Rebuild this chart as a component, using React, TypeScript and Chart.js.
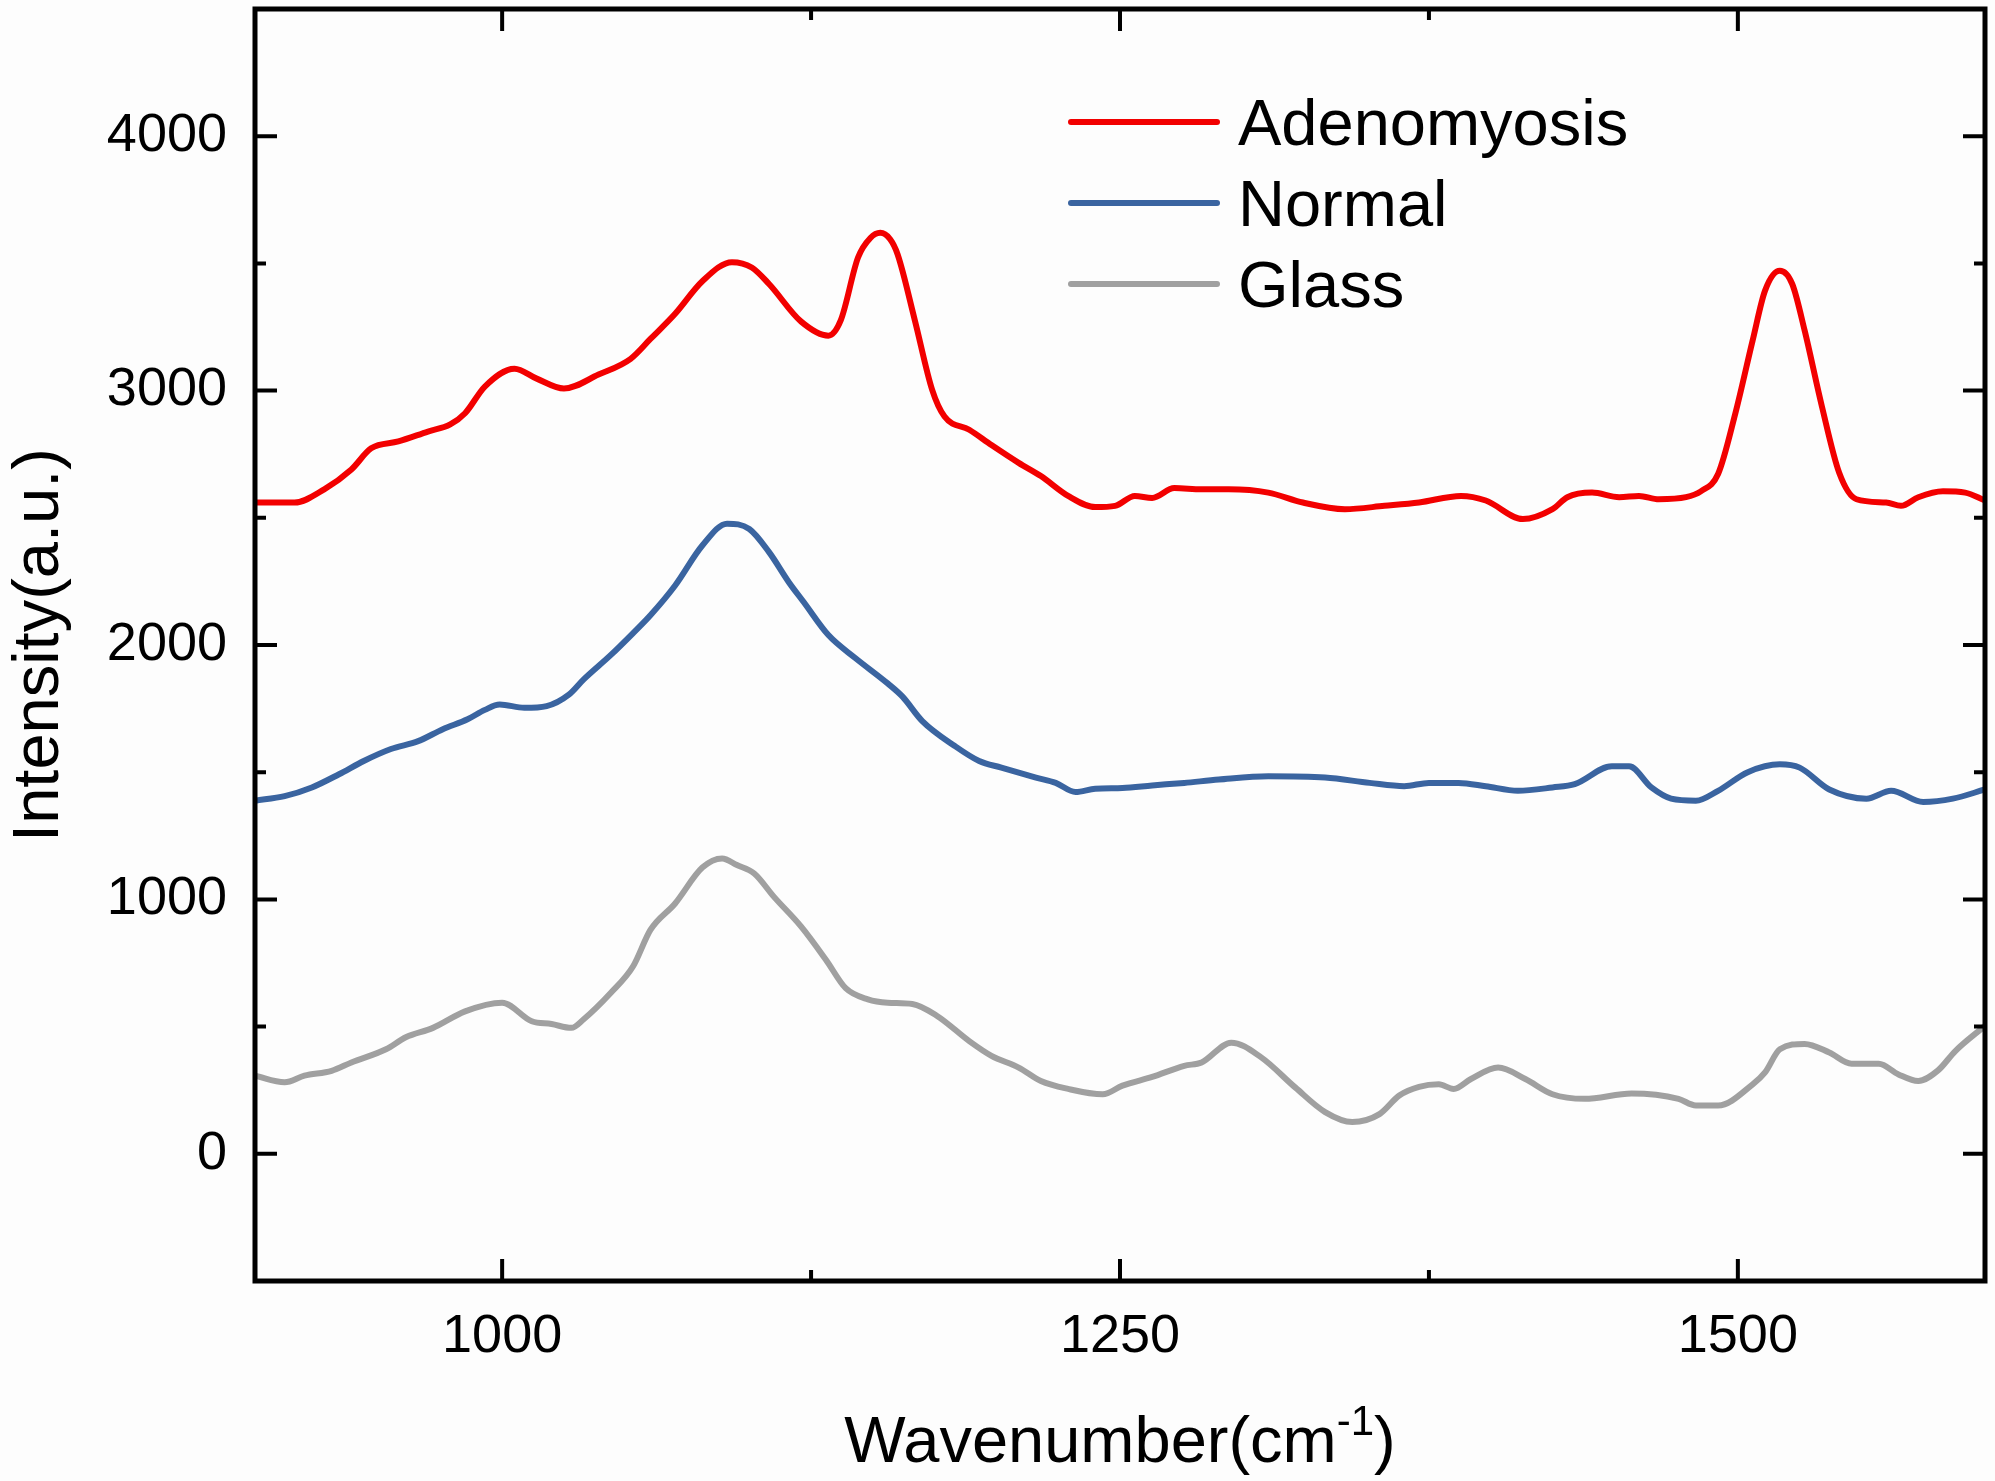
import { useEffect, useRef } from "react"
import { Chart, registerables } from "chart.js"

Chart.register(...registerables)

// Raman spectra (wavenumber, intensity)
const adenoX = [900, 916, 928, 939, 947, 958, 970, 979, 985, 993, 1005, 1014, 1025, 1039, 1052, 1060, 1070, 1081, 1093, 1101, 1108, 1121, 1132, 1137, 1144, 1149, 1153, 1157, 1160, 1167, 1174, 1179, 1189, 1198, 1209, 1218, 1229, 1240, 1248, 1256, 1263, 1272, 1283, 1294, 1310, 1324, 1341, 1357, 1371, 1388, 1398, 1413, 1425, 1431, 1441, 1452, 1460, 1468, 1479, 1485, 1492, 1499, 1506, 1511, 1517, 1522, 1527, 1534, 1541, 1548, 1560, 1566, 1573, 1583, 1592, 1600]
const adenoY = [2560, 2560, 2612, 2690, 2773, 2800, 2839, 2867, 2911, 3016, 3086, 3047, 3008, 3063, 3125, 3203, 3302, 3430, 3505, 3484, 3419, 3271, 3216, 3276, 3523, 3600, 3620, 3595, 3536, 3276, 3003, 2898, 2846, 2786, 2716, 2664, 2586, 2542, 2547, 2586, 2578, 2617, 2612, 2612, 2599, 2560, 2534, 2547, 2560, 2586, 2568, 2495, 2534, 2581, 2599, 2581, 2586, 2573, 2581, 2604, 2672, 2911, 3198, 3393, 3471, 3419, 3237, 2938, 2677, 2573, 2560, 2547, 2581, 2604, 2599, 2568]

const normalX = [900, 912, 923, 934, 944, 955, 966, 976, 986, 993, 999, 1009, 1018, 1027, 1033, 1044, 1053, 1060, 1070, 1081, 1091, 1100, 1108, 1116, 1122, 1132, 1143, 1156, 1162, 1170, 1183, 1193, 1202, 1216, 1224, 1232, 1240, 1251, 1263, 1276, 1290, 1310, 1333, 1351, 1365, 1375, 1387, 1398, 1411, 1425, 1434, 1449, 1456, 1465, 1473, 1483, 1492, 1504, 1517, 1525, 1537, 1552, 1562, 1575, 1587, 1600]
const normalY = [1388, 1406, 1440, 1492, 1544, 1591, 1622, 1669, 1708, 1745, 1766, 1753, 1760, 1805, 1865, 1961, 2047, 2117, 2234, 2391, 2477, 2456, 2365, 2247, 2169, 2039, 1948, 1849, 1797, 1701, 1604, 1544, 1518, 1479, 1458, 1422, 1435, 1438, 1448, 1458, 1471, 1484, 1479, 1458, 1445, 1458, 1458, 1445, 1427, 1440, 1453, 1523, 1523, 1440, 1396, 1388, 1427, 1500, 1531, 1518, 1432, 1396, 1427, 1383, 1396, 1432]

const glassX = [900, 912, 920, 931, 939, 953, 961, 972, 985, 1000, 1012, 1020, 1028, 1033, 1044, 1053, 1060, 1070, 1081, 1089, 1095, 1102, 1110, 1121, 1131, 1139, 1148, 1156, 1166, 1176, 1189, 1198, 1209, 1218, 1229, 1243, 1251, 1263, 1276, 1283, 1295, 1307, 1321, 1333, 1344, 1355, 1363, 1371, 1379, 1385, 1392, 1403, 1414, 1425, 1438, 1457, 1476, 1483, 1492, 1506, 1511, 1517, 1527, 1537, 1546, 1557, 1565, 1573, 1581, 1588, 1600]
const glassY = [307, 281, 307, 326, 359, 411, 458, 495, 560, 594, 521, 510, 495, 529, 633, 737, 880, 984, 1125, 1161, 1135, 1102, 1010, 893, 763, 651, 607, 594, 589, 542, 443, 385, 339, 286, 255, 234, 268, 302, 346, 359, 437, 380, 260, 164, 125, 156, 229, 263, 273, 255, 294, 339, 294, 234, 216, 237, 216, 190, 190, 273, 320, 411, 432, 398, 354, 354, 312, 286, 328, 404, 503]

const seriesNames = ["Adenomyosis", "Normal", "Glass"]
const seriesColors = ["#f20000", "#3a64a0", "#a0a0a0"]

const xMajor = [1000, 1250, 1500]
const xMinor = [1125, 1375]
const yMajor = [0, 1000, 2000, 3000, 4000]
const yMinor = [500, 1500, 2500, 3500]

const FONT = "'Liberation Sans', Arial, sans-serif"

const toPoints = (xs: number[], ys: number[]) => xs.map((x, i) => ({ x, y: ys[i] }))

// frame, inward ticks on all four sides, axis titles and the legend
const decorPlugin = {
  id: "decor",
  afterDraw(chart: any) {
    const { ctx, chartArea } = chart
    const { left, right, top, bottom } = chartArea
    const xs = chart.scales.x
    const ys = chart.scales.y
    ctx.save()
    ctx.strokeStyle = "#000"
    ctx.lineCap = "butt"

    ctx.lineWidth = 4
    const drawX = (vals: number[], len: number) => {
      vals.forEach((v) => {
        const px = xs.getPixelForValue(v)
        ctx.beginPath()
        ctx.moveTo(px, bottom)
        ctx.lineTo(px, bottom - len)
        ctx.moveTo(px, top)
        ctx.lineTo(px, top + len)
        ctx.stroke()
      })
    }
    const drawY = (vals: number[], len: number) => {
      vals.forEach((v) => {
        const py = ys.getPixelForValue(v)
        ctx.beginPath()
        ctx.moveTo(left, py)
        ctx.lineTo(left + len, py)
        ctx.moveTo(right, py)
        ctx.lineTo(right - len, py)
        ctx.stroke()
      })
    }
    drawX(xMajor, 22)
    drawX(xMinor, 11)
    drawY(yMajor, 22)
    drawY(yMinor, 11)

    ctx.lineWidth = 5
    ctx.strokeRect(left, top, right - left, bottom - top)

    ctx.fillStyle = "#000"

    // x title with superscript
    const mainFont = `65px ${FONT}`
    const supFont = `42px ${FONT}`
    ctx.font = mainFont
    const w1 = ctx.measureText("Wavenumber(cm").width
    const w3 = ctx.measureText(")").width
    ctx.font = supFont
    const w2 = ctx.measureText("-1").width
    const total = w1 + w2 + w3
    let tx = (left + right) / 2 - total / 2
    const baseY = 1462
    ctx.textAlign = "left"
    ctx.textBaseline = "alphabetic"
    ctx.font = mainFont
    ctx.fillText("Wavenumber(cm", tx, baseY)
    tx += w1
    ctx.font = supFont
    ctx.fillText("-1", tx, baseY - 27)
    tx += w2
    ctx.font = mainFont
    ctx.fillText(")", tx, baseY)

    // y title
    ctx.save()
    ctx.translate(58, (top + bottom) / 2)
    ctx.rotate(-Math.PI / 2)
    ctx.textAlign = "center"
    ctx.font = mainFont
    ctx.fillText("Intensity(a.u.)", 0, 0)
    ctx.restore()

    // legend
    const rows = [122, 203, 284]
    chart.data.datasets.forEach((ds: any, i: number) => {
      const y = rows[i]
      ctx.strokeStyle = ds.borderColor
      ctx.lineWidth = 6
      ctx.lineCap = "round"
      ctx.beginPath()
      ctx.moveTo(1071, y)
      ctx.lineTo(1217, y)
      ctx.stroke()
      ctx.font = mainFont
      ctx.textAlign = "left"
      ctx.fillText(ds.label, 1238, y + 23)
    })
    ctx.restore()
  },
}

export default function App() {
  const chartRef = useRef<HTMLCanvasElement>(null)
  const chartInstance = useRef<Chart | null>(null)

  useEffect(() => {
    if (!chartRef.current) return
    if (chartInstance.current) chartInstance.current.destroy()
    const ctx = chartRef.current.getContext("2d")
    if (!ctx) return

    const series = [toPoints(adenoX, adenoY), toPoints(normalX, normalY), toPoints(glassX, glassY)]

    chartInstance.current = new Chart(ctx, {
      type: "line",
      data: {
        datasets: series.map((pts, i) => ({
          label: seriesNames[i],
          data: pts,
          borderColor: seriesColors[i],
          backgroundColor: seriesColors[i],
          borderWidth: 6,
          pointRadius: 0,
          fill: false,
          cubicInterpolationMode: "monotone" as const,
        })),
      },
      options: {
        animation: false,
        responsive: true,
        maintainAspectRatio: false,
        layout: { padding: { top: 9, right: 10, left: 0, bottom: 0 } },
        plugins: {
          legend: { display: false },
          tooltip: { enabled: false },
        },
        scales: {
          x: {
            type: "linear",
            min: 900,
            max: 1600,
            afterFit: (s: any) => {
              s.height = 200
              s.paddingLeft = 0
              s.paddingRight = 0
            },
            afterBuildTicks: (s: any) => {
              s.ticks = xMajor.map((v) => ({ value: v }))
            },
            grid: { display: false, drawTicks: false, tickLength: 0 },
            border: { display: false },
            ticks: {
              autoSkip: false,
              maxRotation: 0,
              padding: 24,
              color: "#000",
              font: { family: FONT, size: 54 },
              callback: (v: any) => String(v),
            },
          },
          y: {
            type: "linear",
            min: -500,
            max: 4500,
            afterFit: (s: any) => {
              s.width = 255
              s.paddingTop = 0
              s.paddingBottom = 0
            },
            afterBuildTicks: (s: any) => {
              s.ticks = yMajor.map((v) => ({ value: v }))
            },
            grid: { display: false, drawTicks: false, tickLength: 0 },
            border: { display: false },
            ticks: {
              autoSkip: false,
              padding: 28,
              color: "#000",
              font: { family: FONT, size: 54 },
              callback: (v: any) => String(v),
            },
          },
        },
      },
      plugins: [decorPlugin],
    })

    return () => {
      if (chartInstance.current) {
        chartInstance.current.destroy()
        chartInstance.current = null
      }
    }
  }, [])

  return (
    <div style={{ position: "absolute", left: 0, top: 0, width: 1995, height: 1481, background: "#fdfdfd" }}>
      <canvas ref={chartRef}></canvas>
    </div>
  )
}
